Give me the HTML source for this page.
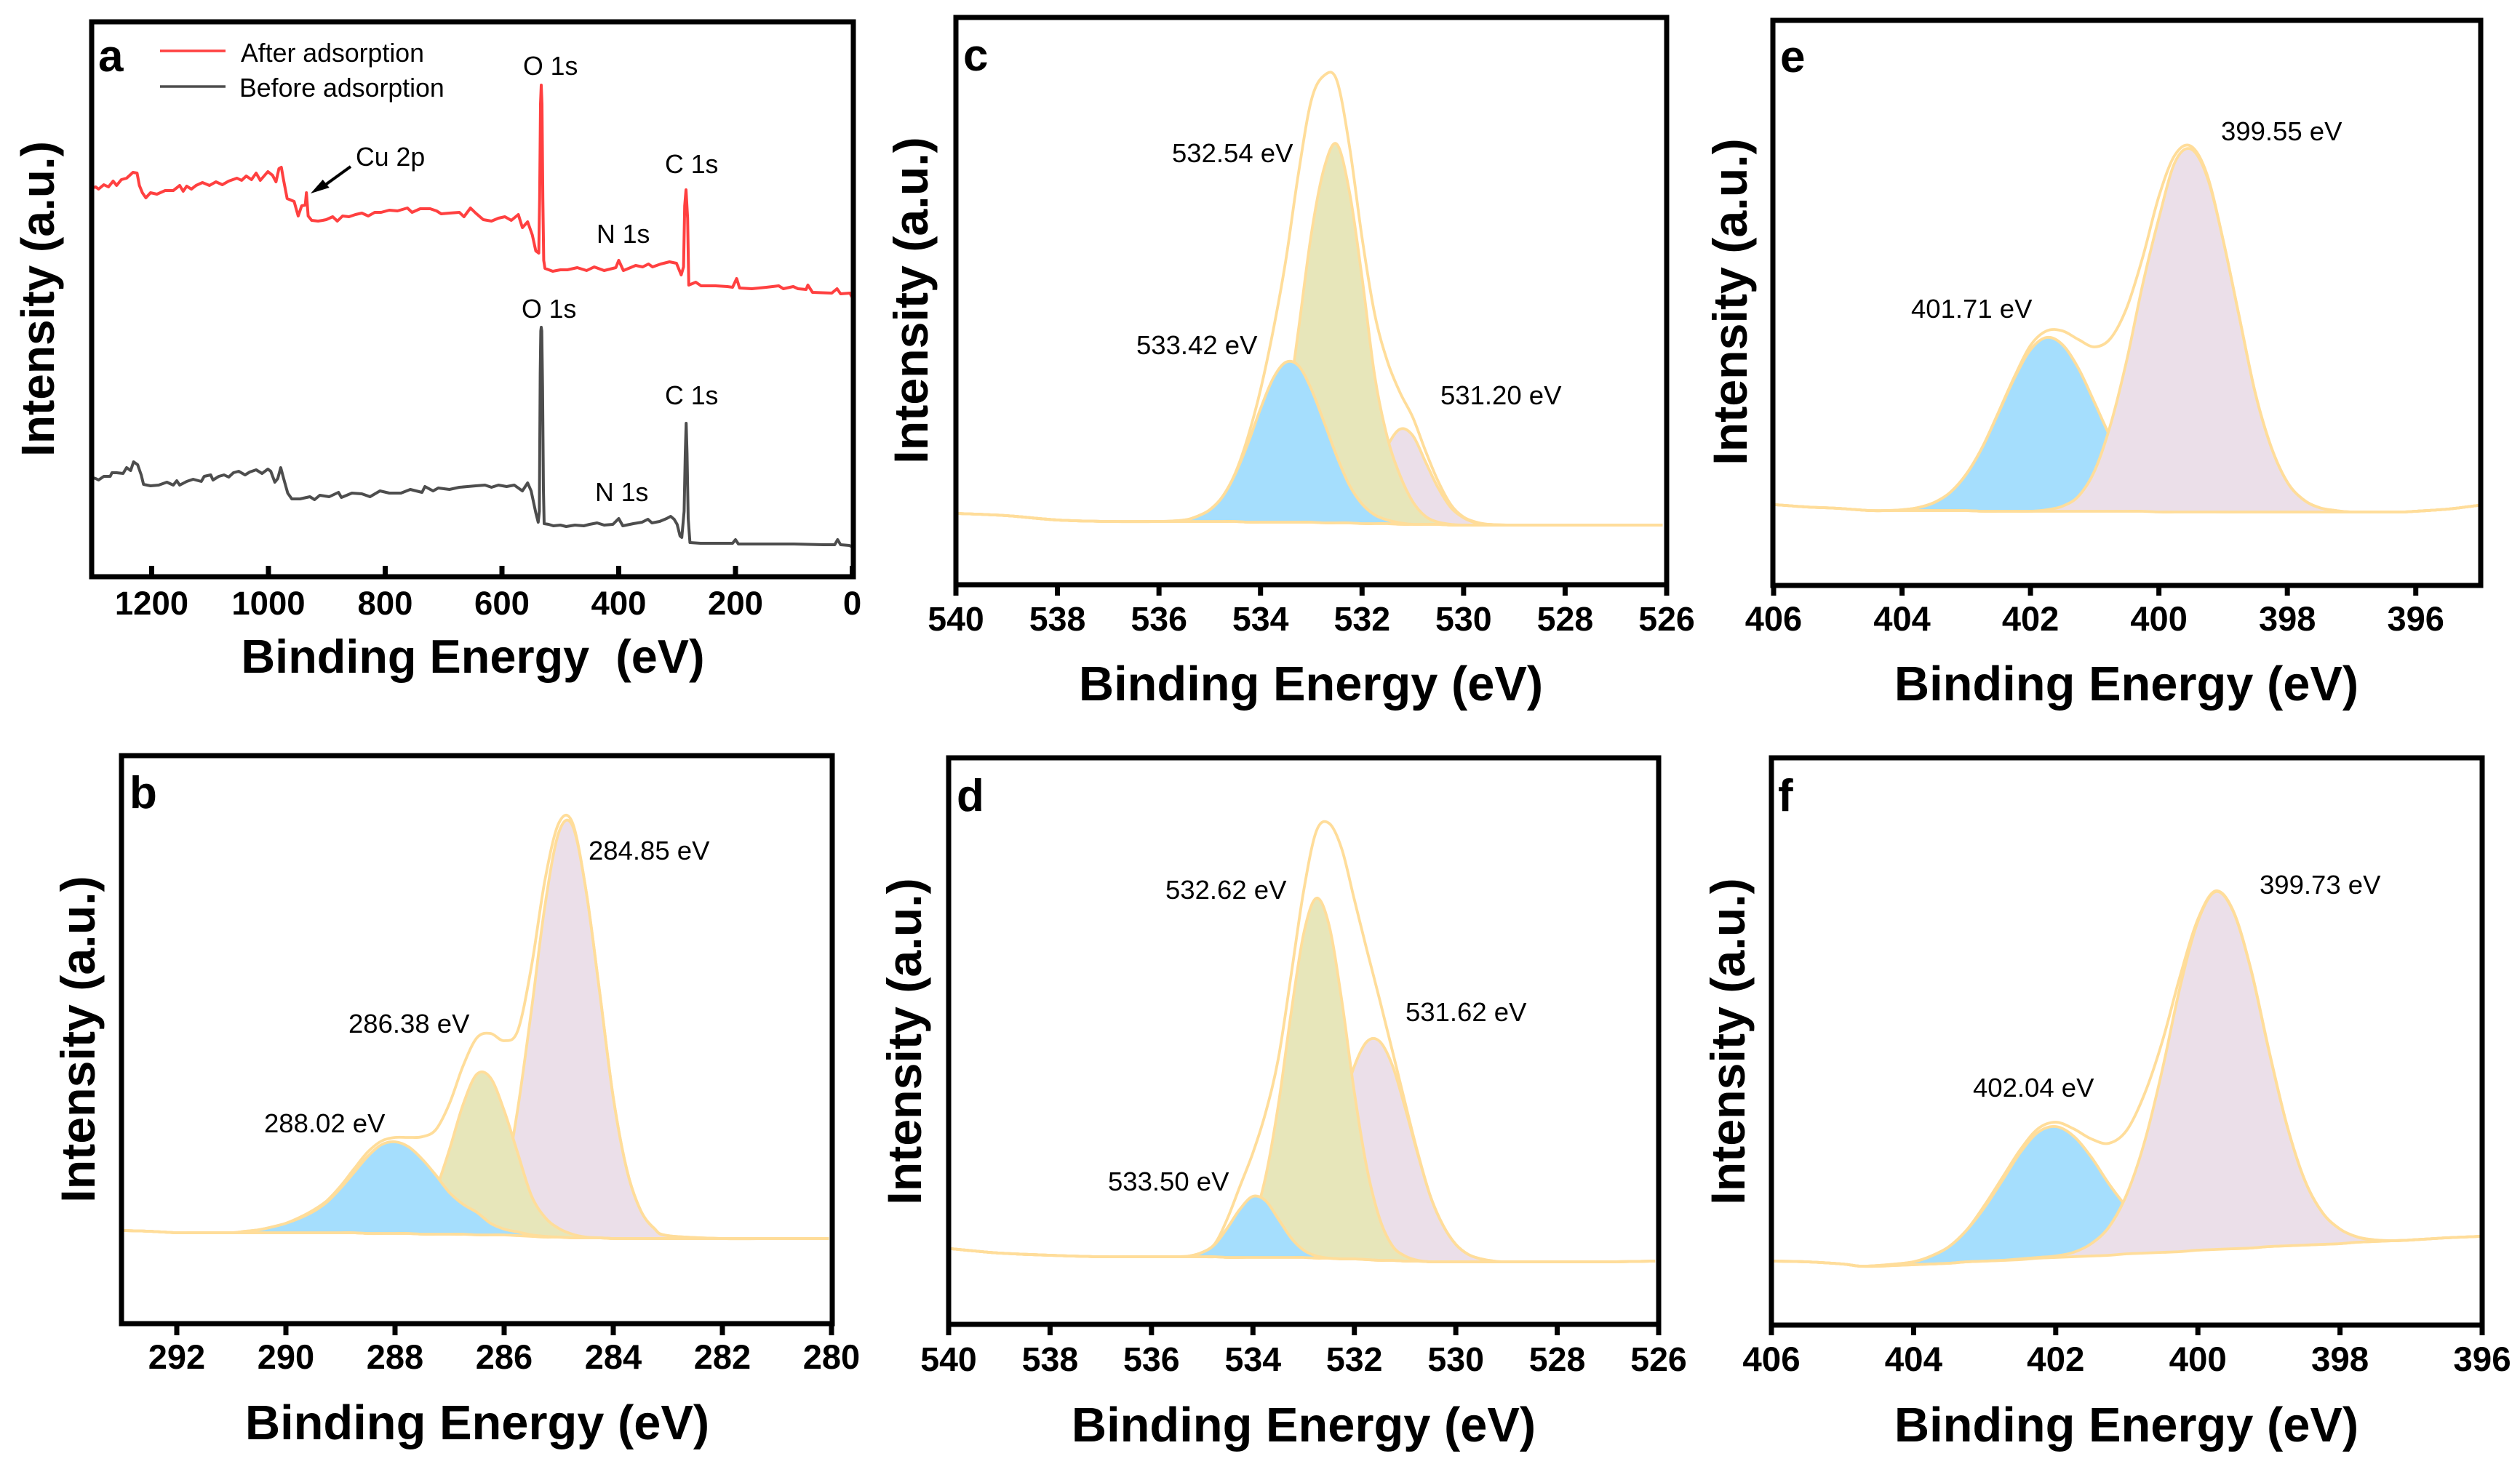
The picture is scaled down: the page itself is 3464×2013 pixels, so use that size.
<!DOCTYPE html>
<html lang="en">
<head>
<meta charset="utf-8">
<title>XPS spectra panels a–f</title>
<style>
html,body{margin:0;padding:0;background:#fff;}
svg{display:block;font-family:"Liberation Sans",Arial,sans-serif;}
.lbl{font-size:36.5px;fill:#000;}
.leg{font-size:35.7px;fill:#000;}
.letter{font-size:62px;font-weight:bold;fill:#000;}
.xt{font-size:66.8px;font-weight:bold;fill:#000;text-anchor:middle;}
.yt{font-size:66.3px;font-weight:bold;fill:#000;text-anchor:middle;}
</style>
</head>
<body>
<svg id="figure" xmlns="http://www.w3.org/2000/svg" width="3464" height="2013" viewBox="0 0 3464 2013">
<rect x="0" y="0" width="3464" height="2013" fill="#fff"/>
<g id="plots"></g>
<g id="annotations">
  <text class="letter" x="135" y="98">a</text>
  <text class="letter" x="178" y="1111">b</text>
  <text class="letter" x="1324" y="97">c</text>
  <text class="letter" x="1315" y="1115">d</text>
  <text class="letter" x="2447" y="99">e</text>
  <text class="letter" x="2444" y="1115">f</text>

  <text class="xt" style="font-size:64.8px" x="650" y="925">Binding Energy&#160; (eV)</text>
  <text class="xt" x="656" y="1979">Binding Energy (eV)</text>
  <text class="xt" x="1802" y="963">Binding Energy (eV)</text>
  <text class="xt" x="1792" y="1982">Binding Energy (eV)</text>
  <text class="xt" x="2923" y="963">Binding Energy (eV)</text>
  <text class="xt" x="2923" y="1982">Binding Energy (eV)</text>

  <text class="yt" style="font-size:64px" transform="translate(74,411) rotate(-90)">Intensity (a.u.)</text>
  <text class="yt" transform="translate(130,1429) rotate(-90)">Intensity (a.u.)</text>
  <text class="yt" transform="translate(1275,413) rotate(-90)">Intensity (a.u.)</text>
  <text class="yt" transform="translate(1266,1432) rotate(-90)">Intensity (a.u.)</text>
  <text class="yt" transform="translate(2401,415) rotate(-90)">Intensity (a.u.)</text>
  <text class="yt" transform="translate(2398,1432) rotate(-90)">Intensity (a.u.)</text>

  <line x1="220" y1="70" x2="310" y2="70" stroke="#ff4040" stroke-width="3.5"/>
  <line x1="220" y1="119" x2="310" y2="119" stroke="#4d4d4d" stroke-width="3.5"/>
  <text class="leg" x="331" y="85">After adsorption</text>
  <text class="leg" x="329" y="133">Before adsorption</text>

  <text class="leg" x="719" y="103">O 1s</text>
  <text class="leg" x="914" y="238">C 1s</text>
  <text class="leg" x="820" y="334">N 1s</text>
  <text class="leg" x="489" y="228">Cu 2p</text>
  <text class="leg" x="717" y="437">O 1s</text>
  <text class="leg" x="914" y="556">C 1s</text>
  <text class="leg" x="818" y="689">N 1s</text>
  <line x1="482" y1="229" x2="446" y2="255" stroke="#000" stroke-width="4"/>
  <polygon points="427,266 443.7,247 452.7,258" fill="#000"/>

  <text class="lbl" x="809" y="1182">284.85 eV</text>
  <text class="lbl" x="479" y="1420">286.38 eV</text>
  <text class="lbl" x="363" y="1557">288.02 eV</text>
  <text class="lbl" x="1611" y="223">532.54 eV</text>
  <text class="lbl" x="1562" y="487">533.42 eV</text>
  <text class="lbl" x="1980" y="556">531.20 eV</text>
  <text class="lbl" x="1602" y="1236">532.62 eV</text>
  <text class="lbl" x="1932" y="1404">531.62 eV</text>
  <text class="lbl" x="1523" y="1637">533.50 eV</text>
  <text class="lbl" x="3053" y="193">399.55 eV</text>
  <text class="lbl" x="2627" y="437">401.71 eV</text>
  <text class="lbl" x="3106" y="1229">399.73 eV</text>
  <text class="lbl" x="2712" y="1508">402.04 eV</text>
</g>
</svg>
<script>
/* ---------- panel a: survey spectra ---------- */
const surveyAfterEnergy = [1300,1296,1291,1282,1274,1266,1260,1252,1243,1232,1225,1221,1216,1210,1202,1191,1177,1163,1152,1146,1140,1132,1124,1113,1101,1090,1079,1068,1054,1046,1038,1029,1021,1014,1001,993,987,982,978,974,968,956,949,943,937,935,932,926,915,907,901,890,882,873,862,851,840,829,818,807,793,779,762,754,740,723,712,704,690,673,665,654,645,632,618,606,595,584,572,565,556,548,542,537,535.5,534,532.7,531.5,530,528.5,526.4,513,500,488,471,455,442,425,405,400,392,371,359,349,342,328,313,301,293,289,287,284.7,282,280,268,259,234,214,205,198,193,172,147,126,118,101,93,79,76,68,35,26,20,4,0];
const surveyAfterCounts = [535,536,533,539,536,544,538,546,548,556,555,538,528,521,528,526,531,531,538,530,537,533,538,542,538,543,539,544,548,545,551,546,555,545,557,552,543,561,563,545,520,516,496,510,511,528,496,490,489,490,491,495,489,496,495,498,500,496,501,501,504,503,507,501,506,506,503,499,500,501,495,507,500,491,489,493,495,490,498,480,488,470,448,445,520,650,676,650,520,435,424,420,422,422,425,421,426,421,425,435,421,428,426,430,426,430,433,431,415,426,510,532,493,401,405,400,400,399,398,410,397,396,398,400,396,399,396,395,401,391,390,396,389,390,384];
const surveyBeforeEnergy = [1300,1296,1291,1282,1271,1268,1260,1249,1243,1236,1231,1224,1218,1214,1202,1188,1174,1163,1157,1152,1140,1129,1115,1110,1099,1095,1085,1076,1068,1060,1051,1040,1032,1021,1011,1001,996,989,984,979,974,967,960,946,929,921,912,896,880,875,857,840,826,809,793,773,757,737,732,718,709,690,673,659,645,629,618,606,592,579,565,556,550,542,538,536,534.5,533.5,532.7,531.8,530.5,529,527.7,520,512,500,490,475,460,450,437,425,410,400,393,375,360,350,343,330,318,311,305,300,295,292,288,286,284.5,283,281,278,260,230,205,200,195,150,100,50,30,25,20,5,0];
const surveyBeforeCounts = [136,135,133,138,138,143,143,142,150,146,158,154,140,127,125,126,130,126,132,126,131,134,131,138,140,133,138,140,137,143,145,140,144,147,142,148,145,130,135,150,135,115,107,107,110,106,112,110,116,109,115,114,110,118,115,115,120,116,124,118,122,120,123,124,125,126,123,126,124,126,118,129,118,88,75,90,280,338,343,338,260,120,73,72,70,71,69,71,70,72,74,71,72,80,70,73,75,79,74,76,80,83,79,72,56,54,90,170,211,170,80,47,46,46,46,51,45,45,45,44,44,51,44,43,41];
const surveyTicks = [1200,1000,800,600,400,200,0];

/* ---------- panel b: C 1s ---------- */
const bEnergy = [292.97,292.5,292,291.5,291,290.75,290.5,290.25,290,289.75,289.5,289.25,289,288.75,288.5,288.25,288,287.75,287.5,287.25,287,286.75,286.5,286.25,286,285.75,285.5,285.25,285,284.75,284.5,284.25,284,283.75,283.5,283.25,283,282,281,280.05];
const bBaseline = [127,126,124,124,124,124,124,124,124,124,124,124,124,124,123,123,123,123,122,122,122,122,121,121,121,120,119,118,118,117,117,117,116,116,116,116,116,116,116,116];
const bEnvelope = [127,126,124,124,124,126,128,132,137,145,155,168,188,212,235,250,255,255,256,266,302,354,392,398,388,402,490,610,687,688,595,455,310,210,155,130,120,116,116,116];
const bPeak288 = [127,126,124,124,124,126,128,132,137,144,153,166,185,207,229,245,249,242,225,203,179,163,152,137,129,125,121,119,118,117,117,117,116,116,116,116,116,116,116,116];
const bPeak286 = [127,126,124,124,124,124,124,124,124,124,124,124,124,124,123,123,125,132,148,184,239,301,342,337,292,233,175,145,130,122,118,117,116,116,116,116,116,116,116,116];
const bPeak284 = [127,126,124,124,124,124,124,124,124,124,124,124,124,124,123,123,123,123,122,122,122,122,126,139,190,295,430,575,674,684,595,455,310,210,155,130,120,116,116,116];
const bTicks = [292,290,288,286,284,282,280];

/* ---------- panel c: O 1s ---------- */
const cEnergy = [539.95,539,538,537,536,535.5,535.25,535,534.75,534.5,534.25,534,533.75,533.5,533.25,533,532.75,532.5,532.25,532,531.75,531.5,531.25,531,530.75,530.5,530.25,530,529.75,529.5,529,528,526.08];
const cBaseline = [96,93,87,85,85,85,85,85,85,85,84,84,84,84,84,84,83,83,83,82,82,82,81,81,81,81,80,80,80,80,80,80,80];
const cEnvelope = [96,93,87,85,85,87,92,101,119,151,201,266,348,445,565,664,698,692,602,475,370,305,262,228,182,140,108,91,84,81,80,80,80];
const cPeak533 = [96,93,87,85,85,87,92,101,119,150,192,240,282,304,299,267,222,175,135,109,94,87,83,81,81,81,80,80,80,80,80,80,80];
const cPeak532 = [96,93,87,85,85,85,85,85,85,86,93,110,150,225,350,480,570,604,539,420,285,200,148,112,92,84,81,80,80,80,80,80,80];
const cPeak531 = [96,93,87,85,85,85,85,85,85,85,84,84,84,84,84,84,84,86,94,114,149,189,212,203,167,131,104,90,83,81,80,80,80];
const cTicks = [540,538,536,534,532,530,528,526];

/* ---------- panel d: O 1s ---------- */
const dEnergy = [539.95,539.5,539,538,537,536,535.5,535.25,535,534.75,534.5,534.25,534,533.75,533.5,533.25,533,532.75,532.5,532.25,532,531.75,531.5,531.25,531,530.75,530.5,530.25,530,529.75,529.5,529.25,529,528,527,526.07];
const dBaseline = [103,100,97,94,92,92,92,92,92,92,91,91,91,91,91,91,91,90,90,89,89,88,87,87,86,86,85,85,85,85,85,85,85,85,85,86];
const dEnvelope = [103,100,97,94,92,92,92,93,98,110,145,190,235,290,364,478,595,677,688,653,583,513,445,375,304,235,175,135,109,95,89,86,85,85,85,86];
const dPeak533 = [103,100,97,94,92,92,92,93,98,109,132,158,175,169,144,118,101,93,90,89,89,88,87,87,86,86,85,85,85,85,85,85,85,85,85,86];
const dPeak532 = [103,100,97,94,92,92,92,92,92,92,96,109,140,202,300,426,536,585,548,445,318,213,144,107,93,87,85,85,85,85,85,85,85,85,85,86];
const dPeak531 = [103,100,97,94,92,92,92,92,92,92,91,91,92,95,100,114,138,179,234,297,354,388,388,355,297,233,175,135,109,95,89,86,85,85,85,86];
const dTicks = [540,538,536,534,532,530,528,526];

/* ---------- panel e: N 1s ---------- */
const eEnergy = [405.97,405.5,405,404.5,404.25,404,403.75,403.5,403.25,403,402.75,402.5,402.25,402,401.75,401.5,401.25,401,400.75,400.5,400.25,400,399.75,399.5,399.25,399,398.75,398.5,398.25,398,397.75,397.5,397.25,397,396.5,396.2,396,395.5,395.03];
const eBaseline = [111,108,106,103,103,103,103,103,103,103,102,102,102,102,102,102,102,102,102,102,102,101,101,101,101,101,101,101,101,101,101,101,101,101,101,101,102,105,110];
const eEnvelope = [111,108,106,103,103,104,107,114,128,153,190,238,287,330,350,350,338,328,340,382,452,535,592,604,565,475,370,265,190,142,118,107,103,101,101,101,102,105,110];
const ePeak401 = [111,108,106,103,103,104,107,114,128,153,190,237,285,324,341,331,298,251,203,163,135,118,109,105,102,101,101,101,101,101,101,101,101,101,101,101,102,105,110];
const ePeak399 = [111,108,106,103,103,103,103,103,103,103,102,102,102,102,104,109,123,158,222,310,415,505,582,600,562,475,370,265,190,142,118,107,103,101,101,101,102,105,110];
const eTicks = [406,404,402,400,398,396];

/* ---------- panel f: N 1s ---------- */
const fEnergy = [405.97,405.5,405,404.75,404.5,404.25,404,403.75,403.5,403.25,403,402.75,402.5,402.25,402,401.75,401.5,401.25,401,400.75,400.5,400.25,400,399.75,399.5,399.25,399,398.75,398.5,398.25,398,397.75,397.5,397.25,397,396.5,396.03];
const fBaseline = [88,87,84,81,81,82,83,84,85,87,88,89,90,92,93,94,95,96,98,99,100,101,103,104,105,106,108,109,110,111,112,114,115,116,117,120,122];
const fEnvelope = [88,87,84,81,82,84,87,95,108,131,165,203,241,270,279,270,256,250,268,318,390,480,558,597,569,488,378,276,200,155,132,121,117,116,117,120,122];
const fPeak402 = [88,87,84,81,82,84,87,95,108,131,162,199,237,265,273,260,231,194,162,135,118,109,106,105,105,106,108,109,110,111,112,114,115,116,117,120,122];
const fPeak399 = [88,87,84,81,81,82,83,84,85,87,88,89,91,93,95,100,112,135,180,252,351,465,555,596,568,487,377,276,200,155,132,121,117,116,117,120,122];
const fTicks = [406,404,402,400,398,396];

const CURVE = '#ffdd9a';
const FILL_BLUE = '#a5defd';
const FILL_KHAKI = '#e7e6ba';
const FILL_PINK = '#ebdfe9';
const NS = 'http://www.w3.org/2000/svg';
const plots = document.getElementById('plots');

function scaleLinear(d0, d1, r0, r1) {
  return function (v) { return r0 + (v - d0) * (r1 - r0) / (d1 - d0); };
}
function makeEl(tag, parent) {
  const node = document.createElementNS(NS, tag);
  parent.appendChild(node);
  return node;
}
function smooth(pts) {
  let d = 'M' + pts[0][0].toFixed(1) + ' ' + pts[0][1].toFixed(1);
  for (let i = 0; i < pts.length - 1; i++) {
    const p0 = pts[Math.max(i - 1, 0)], p1 = pts[i], p2 = pts[i + 1], p3 = pts[Math.min(i + 2, pts.length - 1)];
    const c1x = p1[0] + (p2[0] - p0[0]) / 6, c1y = p1[1] + (p2[1] - p0[1]) / 6;
    const c2x = p2[0] - (p3[0] - p1[0]) / 6, c2y = p2[1] - (p3[1] - p1[1]) / 6;
    d += 'C' + c1x.toFixed(1) + ' ' + c1y.toFixed(1) + ' ' + c2x.toFixed(1) + ' ' + c2y.toFixed(1) + ' ' + p2[0].toFixed(1) + ' ' + p2[1].toFixed(1);
  }
  return d;
}
function points(energies, values, sx, sy) {
  return energies.map(function (e, i) { return [sx(e), sy(values[i])]; });
}
function drawComponent(group, energies, values, baseline, fill, sx, sy) {
  const top = points(energies, values, sx, sy);
  const low = points(energies, baseline, sx, sy).reverse();
  const area = makeEl('path', group);
  
  
  area.setAttribute('d', smooth(top) + low.map(function (p) { return 'L' + p[0].toFixed(1) + ' ' + p[1].toFixed(1); }).join('') + 'Z');
  area.setAttribute('fill', fill);
  const outline = makeEl('path', group);
  
  
  outline.setAttribute('d', smooth(top));
  outline.setAttribute('fill', 'none');
  outline.setAttribute('stroke', CURVE);
  outline.setAttribute('stroke-width', '3.8');
}
function drawCurve(group, energies, values, sx, sy) {
  const line = makeEl('path', group);
  
  
  line.setAttribute('d', smooth(points(energies, values, sx, sy)));
  line.setAttribute('fill', 'none');
  line.setAttribute('stroke', CURVE);
  line.setAttribute('stroke-width', '3.8');
}
function drawSurvey(group, energies, values, color, sx, sy) {
  const line = makeEl('path', group);
  
  
  line.setAttribute('d', points(energies, values, sx, sy).map(function (p, i) { return (i ? 'L' : 'M') + p[0].toFixed(1) + ' ' + p[1].toFixed(1); }).join(''));
  line.setAttribute('fill', 'none');
  line.setAttribute('stroke', color);
  line.setAttribute('stroke-width', '4');
  line.setAttribute('stroke-linejoin', 'round');
}
function drawFrame(group, f, ticks, sx, tickFrom, tickTo, labelY, fontSize) {
  const box = makeEl('rect', group);
  
  
  box.setAttribute('x', f.left);
  box.setAttribute('y', f.top);
  box.setAttribute('width', f.right - f.left);
  box.setAttribute('height', f.bottom - f.top);
  box.setAttribute('fill', 'none');
  box.setAttribute('stroke', '#000');
  box.setAttribute('stroke-width', '7');
  ticks.forEach(function (t) {
    const mark = makeEl('line', group);
    
    
    mark.setAttribute('x1', sx(t));
    mark.setAttribute('x2', sx(t));
    mark.setAttribute('y1', tickFrom);
    mark.setAttribute('y2', tickTo);
    mark.setAttribute('stroke', '#000');
    mark.setAttribute('stroke-width', '7');
    const label = makeEl('text', group);
    
    
    label.setAttribute('x', sx(t));
    label.setAttribute('y', labelY);
    label.setAttribute('text-anchor', 'middle');
    label.setAttribute('font-weight', 'bold');
    label.setAttribute('font-size', fontSize);
    label.textContent = String(t);
  });
}
function newPanel() {
  const group = makeEl('g', plots);
  
  
  return group;
}

/* panel a */
(function () {
  const g = newPanel();
  const sx = scaleLinear(1300, 0, 128.25, 1171.5);
  const sy = scaleLinear(0, 763, 793, 30);
  drawSurvey(g, surveyAfterEnergy, surveyAfterCounts, '#ff4040', sx, sy);
  drawSurvey(g, surveyBeforeEnergy, surveyBeforeCounts, '#4d4d4d', sx, sy);
  drawFrame(g, {left: 126, right: 1173, top: 30, bottom: 793}, surveyTicks, sx, 778, 793, 845, 45.5);
})();

/* panel b */
(function () {
  const g = newPanel();
  const sx = scaleLinear(293, 280, 168, 1143);
  const sy = scaleLinear(0, 780, 1819, 1039);
  drawComponent(g, bEnergy, bPeak284, bBaseline, FILL_PINK, sx, sy);
  drawComponent(g, bEnergy, bPeak286, bBaseline, FILL_KHAKI, sx, sy);
  drawComponent(g, bEnergy, bPeak288, bBaseline, FILL_BLUE, sx, sy);
  drawCurve(g, bEnergy, bBaseline, sx, sy);
  drawCurve(g, bEnergy, bEnvelope, sx, sy);
  drawFrame(g, {left: 167, right: 1144, top: 1039, bottom: 1820}, bTicks, sx, 1820, 1836, 1882, 47);
})();

/* panel c */
(function () {
  const g = newPanel();
  const sx = scaleLinear(540, 526, 1314, 2291);
  const sy = scaleLinear(0, 778, 802, 24);
  drawComponent(g, cEnergy, cPeak531, cBaseline, FILL_PINK, sx, sy);
  drawComponent(g, cEnergy, cPeak532, cBaseline, FILL_KHAKI, sx, sy);
  drawComponent(g, cEnergy, cPeak533, cBaseline, FILL_BLUE, sx, sy);
  drawCurve(g, cEnergy, cBaseline, sx, sy);
  drawCurve(g, cEnergy, cEnvelope, sx, sy);
  drawFrame(g, {left: 1314, right: 2291, top: 24, bottom: 804}, cTicks, sx, 804, 819, 867, 46.5);
})();

/* panel d */
(function () {
  const g = newPanel();
  const sx = scaleLinear(540, 526, 1304, 2280);
  const sy = scaleLinear(0, 778, 1820, 1042);
  drawComponent(g, dEnergy, dPeak531, dBaseline, FILL_PINK, sx, sy);
  drawComponent(g, dEnergy, dPeak532, dBaseline, FILL_KHAKI, sx, sy);
  drawComponent(g, dEnergy, dPeak533, dBaseline, FILL_BLUE, sx, sy);
  drawCurve(g, dEnergy, dBaseline, sx, sy);
  drawCurve(g, dEnergy, dEnvelope, sx, sy);
  drawFrame(g, {left: 1304, right: 2280, top: 1042, bottom: 1821}, dTicks, sx, 1821, 1836, 1885, 46.5);
})();

/* panel e */
(function () {
  const g = newPanel();
  const sx = scaleLinear(406, 395, 2438, 3409);
  const sy = scaleLinear(0, 777, 805, 28);
  drawComponent(g, eEnergy, ePeak401, eBaseline, FILL_BLUE, sx, sy);
  drawComponent(g, eEnergy, ePeak399, eBaseline, FILL_PINK, sx, sy);
  drawCurve(g, eEnergy, eBaseline, sx, sy);
  drawCurve(g, eEnergy, eEnvelope, sx, sy);
  drawFrame(g, {left: 2437, right: 3410, top: 28, bottom: 805}, eTicks, sx, 805, 819, 867, 47);
})();

/* panel f */
(function () {
  const g = newPanel();
  const sx = scaleLinear(406, 396, 2435, 3412);
  const sy = scaleLinear(0, 780, 1822, 1042);
  drawComponent(g, fEnergy, fPeak402, fBaseline, FILL_BLUE, sx, sy);
  drawComponent(g, fEnergy, fPeak399, fBaseline, FILL_PINK, sx, sy);
  drawCurve(g, fEnergy, fBaseline, sx, sy);
  drawCurve(g, fEnergy, fEnvelope, sx, sy);
  drawFrame(g, {left: 2435, right: 3412, top: 1042, bottom: 1822}, fTicks, sx, 1822, 1836, 1885, 47.5);
})();
</script>
</body>
</html>
